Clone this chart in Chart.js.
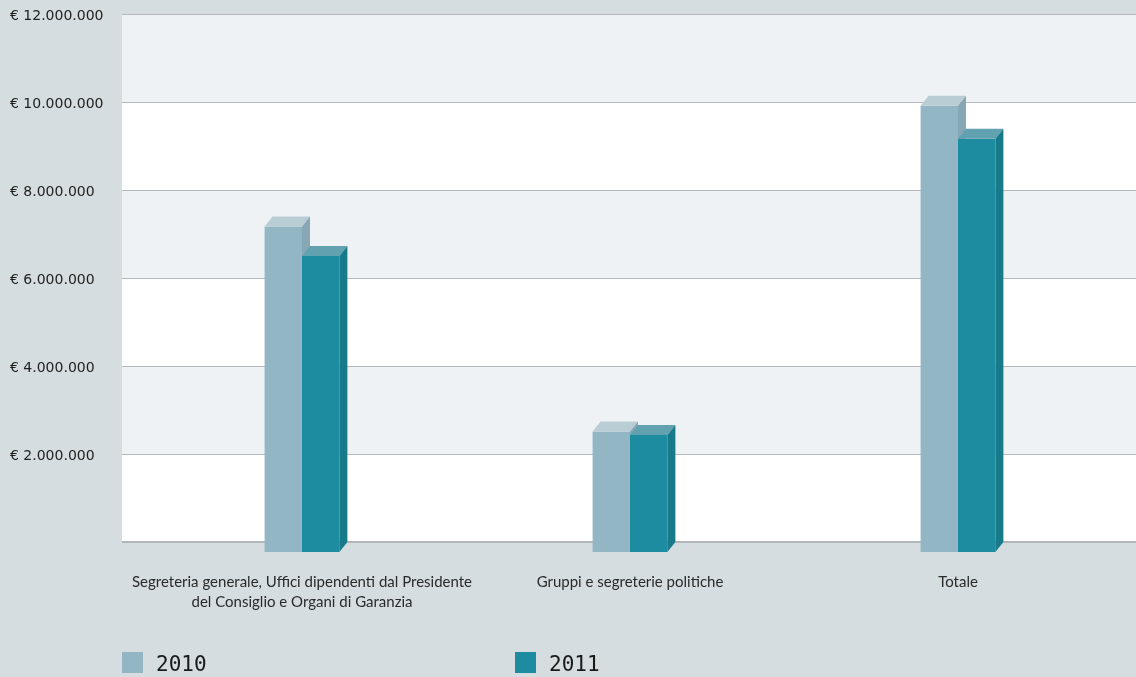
<!DOCTYPE html>
<html lang="it">
<head>
<meta charset="utf-8">
<title>Spesa 2010-2011</title>
<script src="https://cdn.jsdelivr.net/npm/chart.js@4.4.1/dist/chart.umd.min.js"></script>
<style>
  html, body { margin: 0; padding: 0; background: #d5dde0; }
  canvas { display: block; }
</style>
</head>
<body>
<canvas id="spesa" width="1136" height="677"></canvas>
<script>
const categories = [
    ['Segreteria generale, Uffici dipendenti dal Presidente', 'del Consiglio e Organi di Garanzia'],
    'Gruppi e segreterie politiche',
    'Totale'
];
const years = ['2010', '2011'];
const values_2010 = [7400000, 2740000, 10140000];
const values_2011 = [6730000, 2660000, 9390000];
const y_max = 12000000;
const y_step = 2000000;

// front / top / side colours of the boxes
const colors_2010 = ['#92b6c4', '#b9cdd5', '#86a7b3'];
const colors_2011 = ['#1e8ca0', '#62a1af', '#177a8a'];

const DX = 8, DY = 10;   // depth of the 3d boxes

function euro(v) {
    return '€ ' + v.toString().replace(/\B(?=(\d{3})+(?!\d))/g, '.');
}

// background bands, grid lines and base line, spanning the whole plot box
const plotFrame = {
    id: 'plotFrame',
    beforeDraw(chart) {
        const ctx = chart.ctx;
        const y = chart.scales.y;
        const x0 = 122, x1 = chart.width;
        ctx.save();
        for (let v = 0; v < y_max; v += y_step) {
            const top = y.getPixelForValue(v + y_step);
            const bot = y.getPixelForValue(v);
            ctx.fillStyle = ((v / y_step) % 2 === 0) ? '#ffffff' : '#eef2f5';
            ctx.fillRect(x0, top, x1 - x0, bot - top);
        }
        ctx.strokeStyle = '#b4b9bd';
        ctx.lineWidth = 1;
        for (let v = y_step; v <= y_max; v += y_step) {
            const py = Math.round(y.getPixelForValue(v)) + 0.5;
            ctx.beginPath();
            ctx.moveTo(x0, py);
            ctx.lineTo(x1, py);
            ctx.stroke();
        }
        ctx.lineWidth = 2;
        ctx.strokeStyle = '#b1b6b9';
        const by = Math.round(y.getPixelForValue(0));
        ctx.beginPath();
        ctx.moveTo(x0, by);
        ctx.lineTo(x1, by);
        ctx.stroke();
        ctx.restore();
    }
};

// boxes drawn in dataset order: front shifted down by the depth, then top and side faces
const box3d = {
    id: 'box3d',
    beforeDatasetDraw() {
        return false;
    },
    afterDatasetsDraw(chart) {
        const ctx = chart.ctx;
        ctx.save();
        ctx.translate(0, DY);
        chart.data.datasets.forEach((ds, i) => {
            chart.getDatasetMeta(i).data.forEach(bar => {
                bar.draw(ctx);
                const l = bar.x - bar.width / 2, r = bar.x + bar.width / 2;
                const t = bar.y, b = bar.base;
                ctx.fillStyle = ds.topColor;
                ctx.beginPath();
                ctx.moveTo(l, t);
                ctx.lineTo(r, t);
                ctx.lineTo(r + DX, t - DY);
                ctx.lineTo(l + DX, t - DY);
                ctx.closePath();
                ctx.fill();
                ctx.fillStyle = ds.sideColor;
                ctx.beginPath();
                ctx.moveTo(r, t);
                ctx.lineTo(r + DX, t - DY);
                ctx.lineTo(r + DX, b - DY);
                ctx.lineTo(r, b);
                ctx.closePath();
                ctx.fill();
            });
        });
        ctx.restore();
    }
};

// square legend under the axis
const yearLegend = {
    id: 'yearLegend',
    afterDraw(chart) {
        const ctx = chart.ctx;
        const xs = [122, 515];
        ctx.save();
        ctx.font = '21px "DejaVu Sans Mono"';
        ctx.textBaseline = 'middle';
        chart.data.datasets.forEach((ds, i) => {
            ctx.fillStyle = ds.backgroundColor;
            ctx.fillRect(xs[i], 652, 21, 21);
            ctx.fillStyle = '#1a1a1a';
            ctx.fillText(ds.label, xs[i] + 34, 666);
        });
        ctx.restore();
    }
};

const ctx_spesa = document.getElementById('spesa');
const spesa = new Chart(ctx_spesa, {
    type: 'bar',
    data: {
        labels: categories,
        datasets: [{
            label: years[0],
            data: values_2010,
            backgroundColor: colors_2010[0],
            topColor: colors_2010[1],
            sideColor: colors_2010[2],
            borderWidth: 0,
        }, {
            label: years[1],
            data: values_2011,
            backgroundColor: colors_2011[0],
            topColor: colors_2011[1],
            sideColor: colors_2011[2],
            borderWidth: 0,
        }],
    },
    options: {
        responsive: false,
        animation: false,
        categoryPercentage: 0.228,
        barPercentage: 1,
        layout: { padding: { left: 10, top: 14, right: 14, bottom: 0 } },
        scales: {
            x: {
                grid: { display: false },
                border: { display: false },
                ticks: {
                    padding: 22,
                    color: '#2a2a2a',
                    font: { family: 'Lato', size: 15, lineHeight: 1.33 },
                    maxRotation: 0,
                    autoSkip: false,
                },
                afterFit: function(scale) { scale.height = 135; },
            },
            y: {
                min: 0,
                max: y_max,
                grid: { display: false },
                border: { display: false },
                ticks: {
                    stepSize: y_step,
                    crossAlign: 'far',
                    labelOffset: 2,
                    color: '#222222',
                    font: { family: 'DejaVu Sans', size: 14 },
                    callback: function(value) {
                        return value === 0 ? null : euro(value);
                    }
                },
                afterFit: function(scale) { scale.width = 128; },
            }
        },
        plugins: {
            legend: { display: false },
            tooltip: { enabled: false },
        },
    },
    plugins: [plotFrame, box3d, yearLegend],
});
</script>
</body>
</html>
